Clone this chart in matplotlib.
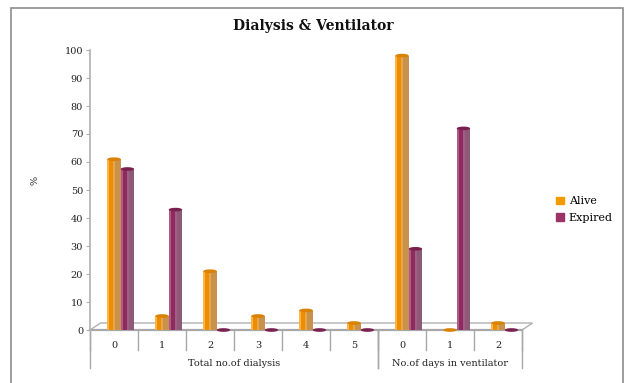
import matplotlib
matplotlib.use("Agg")
import matplotlib.pyplot as plt
from matplotlib.patches import Ellipse, Patch, Rectangle, Polygon

plt.rcParams['font.family'] = ['DejaVu Serif']

# Outcome percentages per category
categories = ["0", "1", "2", "3", "4", "5", "0", "1", "2"]
alive = [61, 5, 21, 5, 7, 2.5, 98, 0, 2.5]
expired = [57.5, 43, 0, 0, 0, 0, 29, 72, 0]
groups = ["Total no.of dialysis", "No.of days in ventilator"]
group_spans = [(0, 6), (6, 9)]
y_ticks = list(range(0, 101, 10))

W, H = 626, 383
fig = plt.figure(figsize=(W / 100, H / 100), dpi=100)

# outer chart border
fig.patches.append(Rectangle((11 / W, -0.1), 612 / W, 1.1 - 8 / H,
                             transform=fig.transFigure, fill=False,
                             edgecolor="#8c8c8c", lw=1.2))

ax = fig.add_axes([90 / W, (H - 330) / H, 432 / W, 280 / H])
ax.set_xlim(-0.5, len(categories) - 0.5)
ax.set_ylim(0, 100)
for s in ["top", "right", "bottom"]:
    ax.spines[s].set_visible(False)
ax.spines["left"].set_color("#b0b0b0")
ax.spines["left"].set_linewidth(1.2)
ax.set_yticks(y_ticks)
ax.tick_params(axis="y", length=3, color="#b0b0b0", labelsize=7, pad=2,
               labelcolor="#222222")
ax.set_xticks([])

# floor of the pseudo-3D plot
dx, dy = 0.22, 2.5
x0, x1 = -0.5, len(categories) - 0.5
ax.add_patch(Polygon([(x0, 0), (x1, 0), (x1 + dx, dy), (x0 + dx, dy)],
                     closed=True, facecolor="white", edgecolor="#b0b0b0",
                     lw=1.0, clip_on=False, zorder=1))
ax.plot([x0, x1], [0, 0], color="#a8a8a8", lw=1.6, clip_on=False, zorder=1)

# cylinder shading as vertical stripes
bw = 0.28
stripes = [(0.0, 0.15), (0.15, 0.45), (0.45, 0.6), (0.6, 1.0)]
alive_cols = ["#f9b548", "#ee8d00", "#e9a648", "#c9924c"]
expired_cols = ["#b4578a", "#8c2b5d", "#a45d84", "#8b5a77"]
series = [(alive, 0.0, alive_cols, "#d98200"),
          (expired, 0.28, expired_cols, "#7a2050")]
xs = range(len(categories))
for vals, off, cols, cap in series:
    lefts = [i + off - bw / 2 for i in xs]
    for (a, b), c in zip(stripes, cols):
        ax.bar([l + a * bw for l in lefts], vals, width=(b - a) * bw,
               align="edge", color=c, lw=0, zorder=3)
    for l, v in zip(lefts, vals):
        ax.add_patch(Ellipse((l + bw / 2, v), bw, 1.3, facecolor=cap,
                             edgecolor="none", zorder=4, clip_on=False))

# category ticks and group separators below the floor
for i in range(len(categories) + 1):
    ax.plot([i - 0.5, i - 0.5], [0, -7], color="#a8a8a8", lw=1.0,
            clip_on=False)
for a, b in group_spans:
    for e in (a, b):
        ax.plot([e - 0.5, e - 0.5], [0, -13.6], color="#a8a8a8", lw=1.0,
                clip_on=False)
for i, c in enumerate(categories):
    ax.text(i, -5.4, c, ha="center", va="center", fontsize=7,
            color="#222222")
for g, (a, b) in zip(groups, group_spans):
    ax.text((a + b - 1) / 2, -12.1, g, ha="center", va="center",
            fontsize=7, color="#222222")

fig.text(313 / W, 1 - 26 / H, "Dialysis & Ventilator", ha="center",
         va="center", fontsize=10, fontweight="bold", color="#111111")
fig.text(35 / W, 1 - 180 / H, "%", ha="center", va="center", rotation=90,
         fontsize=7, color="#222222")

handles = [Patch(color="#f59b00", label="Alive"),
           Patch(color="#9b3366", label="Expired")]
fig.legend(handles=handles, loc="upper left",
           bbox_to_anchor=(552 / W, 1 - 192 / H), frameon=False,
           fontsize=8, handlelength=0.7, handleheight=0.7,
           handletextpad=0.4, labelspacing=0.6, borderaxespad=0)

fig.savefig("out.png", dpi=100)
